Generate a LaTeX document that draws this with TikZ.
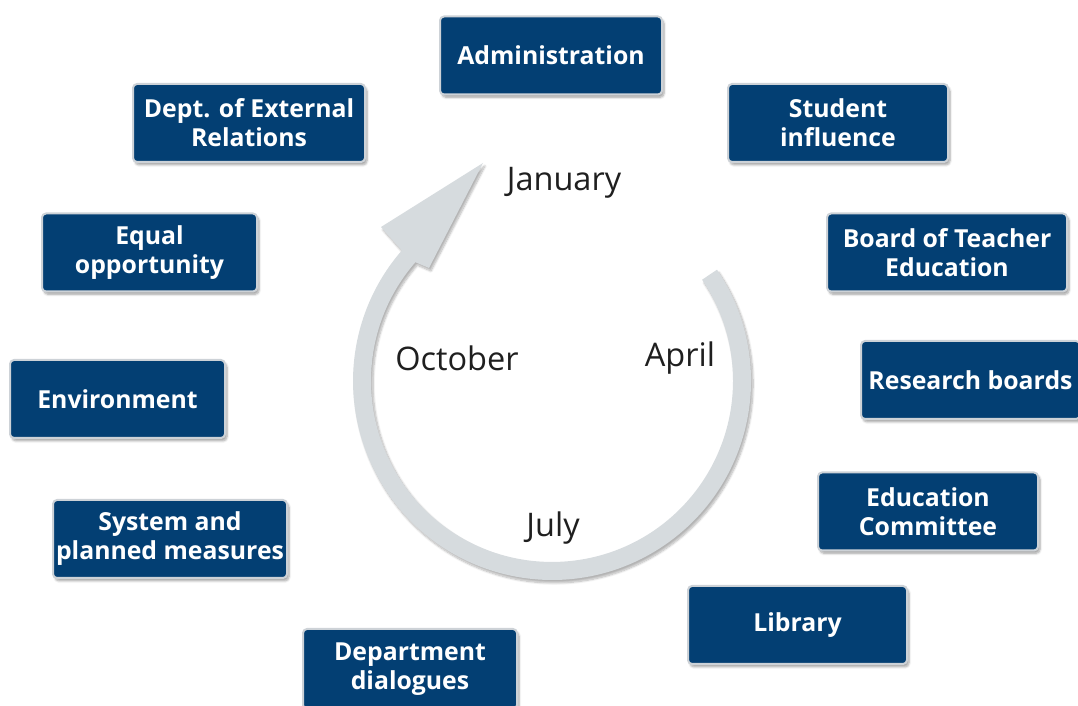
\documentclass[tikz,border=0pt]{standalone}
\usepackage{fontspec}
\setmainfont{Open Sans}
\usetikzlibrary{shadows.blur}
\definecolor{navy}{HTML}{033F73}
\definecolor{ringgray}{HTML}{D6DBDE}
\definecolor{rim}{HTML}{CDD2D7}
\begin{document}
\begin{tikzpicture}[x=1pt,y=1pt,
  box/.style={draw=rim, line width=2pt, fill=navy, rounded corners=4pt, text=white,
    font=\bfseries\fontsize{24.8}{29}\selectfont, align=center, inner sep=0pt,
    minimum height=78pt,
    blur shadow={shadow xshift=2pt, shadow yshift=-3pt, shadow blur steps=6, shadow opacity=35}},
  month/.style={font=\fontsize{32.5}{34}\selectfont, text=black!88, inner sep=0pt}]
\useasboundingbox (0,0) rectangle (1078,706);
\clip (0,0) rectangle (1078,706);
% ring arrow
\fill[ringgray, blur shadow={shadow xshift=2pt, shadow yshift=-3pt, shadow blur steps=8, shadow opacity=30}]
  (717,436.3) arc[start angle=34, end angle=-221, radius=199]
  -- (381,479) -- (483,543) -- (429,438) -- (415.4,443.8)
  arc[start angle=-221, end angle=34, radius=181] -- cycle;
% months
\node[month] (jan) at (564,523) {January};
\node[month] (oct) at (457,348) {October};
\node[month] (apr) at (680,348) {April};
\node[month] (jul) at (553,178) {July};
% boxes
\node[box, minimum width=222pt] (adm) at (551,650.5) {Administration};
\node[box, minimum width=232pt] (ext) at (249,583) {Dept. of External\\Relations};
\node[box, minimum width=220pt] (stu) at (838,583) {Student\\influence};
\node[box, minimum width=215pt] (eq) at (149.5,453.5) {Equal\\opportunity};
\node[box, minimum width=240pt] (bte) at (947,453.5) {Board of Teacher\\Education};
\node[box, minimum width=215pt] (env) at (117.5,307) {Environment};
\node[box, minimum width=219pt] (res) at (970.5,326) {Research boards};
\node[box, minimum width=234pt] (sys) at (170,167) {System and\\planned measures};
\node[box, minimum width=220pt] (edu) at (928,194.5) {Education\\Committee};
\node[box, minimum width=219pt] (lib) at (797.5,81) {Library};
\node[box, minimum width=214pt, minimum height=80pt] (dep) at (410,37) {Department\\dialogues};
\end{tikzpicture}
\end{document}
